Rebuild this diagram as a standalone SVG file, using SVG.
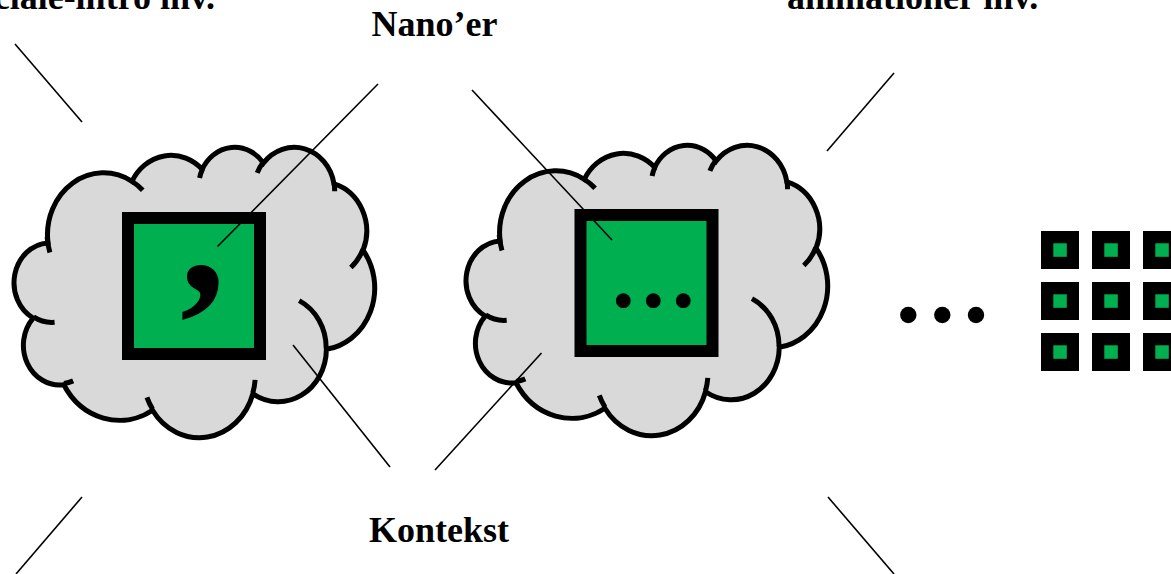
<svg xmlns="http://www.w3.org/2000/svg" xmlns:xlink="http://www.w3.org/1999/xlink" width="1171" height="574" viewBox="0 0 1171 574">
<style>
.lbl{font-family:"Liberation Serif","Times New Roman",serif;font-weight:bold;font-size:36px;fill:#000}
.cloud{fill:#d9d9d9;stroke:#000;stroke-width:5px}
.cin{fill:none;stroke:#000;stroke-width:5px}
.sq{fill:#00b050;stroke:#000;stroke-width:12}
.conn line{stroke:#000;stroke-width:1.6}
.blk{fill:#000}
.gn{fill:#00b050}
</style>
<defs>
<path id="cloudBody" class="cloud" vector-effect="non-scaling-stroke" d="M3900 14370 A6753 9190 0 0 1 14005 5202 A5333 7267 0 0 1 22457 3433 A4365 5945 0 0 1 29834 2482 A4857 6595 0 0 1 38319 5577 A5333 7273 0 0 1 41819 15461 A6775 9220 0 0 1 37405 30204 A5785 7867 0 0 1 28556 36814 A6752 9215 0 0 1 16481 39267 A7720 10543 0 0 1 5806 35474 A4360 5918 0 0 1 2113 25554 A4345 5945 0 0 1 3900 14370 Z"/>
<path id="cloudInner" class="cin" vector-effect="non-scaling-stroke" d="M4693 26177 A4345 5945 0 0 1 2160 25380 M6928 34899 A4360 5918 0 0 1 5820 35281 M16478 39090 A6752 9215 0 0 1 15809 37348 M28827 34751 A6752 9215 0 0 1 28560 36660 M34129 22954 A5785 7867 0 0 1 37380 30090 M41798 15354 A5333 7273 0 0 1 40350 18030 M38324 5426 A4857 6595 0 0 1 38400 6690 M29078 3952 A4857 6595 0 0 1 29820 2340 M22141 4720 A4365 5945 0 0 1 22500 3330 M14000 5192 A6753 9190 0 0 1 15301 6542 M4127 15789 A6753 9190 0 0 1 3793 13519"/>
</defs>

<g id="node-cloud1">
  <g transform="translate(15.6,146.35) scale(0.008309,0.00672)">
    <use xlink:href="#cloudBody"/>
    <use xlink:href="#cloudInner"/>
  </g>
  <rect class="sq" x="128" y="218" width="132" height="136"/>
  <text class="lbl" x="180" y="292" style="font-size:182px">,</text>
</g>

<g id="node-cloud2">
  <g transform="translate(467.6,144.35) scale(0.008332,0.00672)">
    <use xlink:href="#cloudBody"/>
    <use xlink:href="#cloudInner"/>
  </g>
  <rect class="sq" x="580.5" y="215" width="132" height="136"/>
  <circle class="blk" cx="623.3" cy="300.7" r="7.4"/>
  <circle class="blk" cx="653.3" cy="300.7" r="7.4"/>
  <circle class="blk" cx="683.3" cy="300.7" r="7.4"/>
</g>

<g id="node-ellipsis">
  <circle class="blk" cx="908.3" cy="315" r="8.2"/>
  <circle class="blk" cx="942.3" cy="315" r="8.2"/>
  <circle class="blk" cx="976" cy="315" r="8.2"/>
</g>

<g id="node-grid">
  <rect class="blk" x="1041" y="231" width="38" height="38"/>
  <rect class="blk" x="1092" y="231" width="38" height="38"/>
  <rect class="blk" x="1143" y="231" width="38" height="38"/>
  <rect class="blk" x="1041" y="282" width="38" height="38"/>
  <rect class="blk" x="1092" y="282" width="38" height="38"/>
  <rect class="blk" x="1143" y="282" width="38" height="38"/>
  <rect class="blk" x="1041" y="333" width="38" height="38"/>
  <rect class="blk" x="1092" y="333" width="38" height="38"/>
  <rect class="blk" x="1143" y="333" width="38" height="38"/>
  <rect class="gn" x="1053.3" y="243.3" width="13.5" height="13.5"/>
  <rect class="gn" x="1104.3" y="243.3" width="13.5" height="13.5"/>
  <rect class="gn" x="1155.3" y="243.3" width="13.5" height="13.5"/>
  <rect class="gn" x="1053.3" y="294.3" width="13.5" height="13.5"/>
  <rect class="gn" x="1104.3" y="294.3" width="13.5" height="13.5"/>
  <rect class="gn" x="1155.3" y="294.3" width="13.5" height="13.5"/>
  <rect class="gn" x="1053.3" y="345.3" width="13.5" height="13.5"/>
  <rect class="gn" x="1104.3" y="345.3" width="13.5" height="13.5"/>
  <rect class="gn" x="1155.3" y="345.3" width="13.5" height="13.5"/>
</g>

<g id="labels">
  <text id="label-intro" class="lbl" x="215" y="9" text-anchor="end">ciale-intro inv.</text>
  <text id="label-anim" class="lbl" x="787" y="9">animationer inv.</text>
  <text id="label-nano" class="lbl" x="371.5" y="36">Nano’er</text>
  <text id="label-kontekst" class="lbl" x="369" y="541.5">Kontekst</text>
</g>

<g id="connectors" class="conn">
  <line x1="15" y1="44" x2="82" y2="122"/>
  <line x1="378" y1="84" x2="217.5" y2="246.5"/>
  <line x1="472" y1="90" x2="612" y2="240"/>
  <line x1="894" y1="73" x2="827" y2="151"/>
  <line x1="293" y1="345" x2="390" y2="467"/>
  <line x1="435" y1="470" x2="541.5" y2="353"/>
  <line x1="82" y1="497" x2="16" y2="574"/>
  <line x1="828" y1="497" x2="894" y2="574"/>
</g>
</svg>
